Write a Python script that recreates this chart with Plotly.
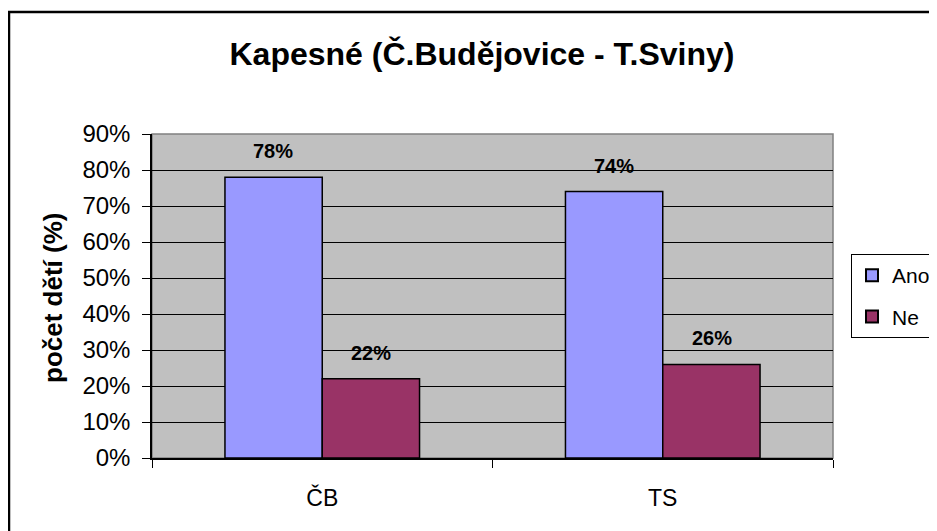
import plotly.graph_objects as go

categories = ["ČB", "TS"]
ano = [0.78, 0.74]
ne = [0.22, 0.26]
series_names = ["Ano", "Ne"]
y_tickvals = [0, 0.1, 0.2, 0.3, 0.4, 0.5, 0.6, 0.7, 0.8, 0.9]
y_ticktext = ["0%", "10%", "20%", "30%", "40%", "50%", "60%", "70%", "80%", "90%"]
title_text = "Kapesné (Č.Budějovice - T.Sviny)"
y_title = "počet dětí (%)"

FONT = "Liberation Sans, Arial, sans-serif"
colors = ["#9999FF", "#993366"]

fig = go.Figure()
for name, vals, col in zip(series_names, [ano, ne], colors):
    fig.add_trace(go.Bar(
        x=categories, y=vals, name=name, legendgroup=name,
        marker=dict(color=col, line=dict(color="black", width=1.5)),
    ))

# data labels
bar_px = 98
for i, vals in enumerate([ano, ne]):
    shift = -bar_px / 2 if i == 0 else bar_px / 2
    for c, v in zip(categories, vals):
        fig.add_annotation(
            x=c, y=v, xref="x", yref="y", text=f"<b>{round(v*100)}%</b>",
            showarrow=False, xshift=shift, yshift=13, yanchor="bottom",
            font=dict(family=FONT, size=20, color="black"),
        )

# page has an 8px body margin, so the figure is sized to the visible area
W, H = 929, 523
L, R, T, B = 144, 104, 126, 73
pw, ph = W - L - R, H - T - B

def px(xp):
    return (xp - L) / pw

def py(yp):
    return (H - B - yp) / ph

# y-axis title
fig.add_annotation(
    x=px(45), y=py(290), xref="paper", yref="paper", text=f"<b>{y_title}</b>",
    textangle=-90, showarrow=False, xanchor="center", yanchor="middle",
    font=dict(family=FONT, size=26, color="black"),
)

# outer chart border
fig.add_shape(type="rect", xref="paper", yref="paper",
              x0=px(1), x1=px(960), y0=py(560), y1=py(4),
              line=dict(color="black", width=2.5), fillcolor="rgba(0,0,0,0)", layer="below")
# plot area frame (gray)
fig.add_shape(type="rect", xref="paper", yref="paper", x0=0, x1=1, y0=0, y1=1,
              line=dict(color="#808080", width=1.5), fillcolor="rgba(0,0,0,0)", layer="below")

fig.update_layout(
    width=W, height=H,
    margin=dict(l=L, r=R, t=T, b=B, autoexpand=False),
    paper_bgcolor="white", plot_bgcolor="#C0C0C0",
    barmode="group", bargap=1.5 / 3.5, bargroupgap=0,
    title=dict(text=f"<b>{title_text}</b>", x=474 / W, xanchor="center",
               y=1 - 46 / H, yanchor="middle",
               font=dict(family=FONT, size=32, color="black")),
    font=dict(family=FONT, color="black"),
    showlegend=True,
    legend=dict(x=px(843), y=py(246), xanchor="left", yanchor="top",
                bgcolor="white", bordercolor="black", borderwidth=1,
                font=dict(family=FONT, size=21, color="black"),
                itemsizing="constant", tracegroupgap=11, traceorder="grouped"),
    xaxis=dict(type="category", showline=True, linecolor="black", linewidth=1.5,
               ticks="outside", ticklen=8, tickcolor="black", tickson="boundaries",
               tickfont=dict(family=FONT, size=23, color="black"), ticklabelstandoff=19,
               showgrid=False, fixedrange=True),
    yaxis=dict(range=[0, 0.9], tickvals=y_tickvals, ticktext=y_ticktext,
               showline=True, linecolor="black", linewidth=1.5,
               ticks="outside", ticklen=8, tickcolor="black",
               tickfont=dict(family=FONT, size=24, color="black"), ticklabelstandoff=7,
               showgrid=True, gridcolor="black", gridwidth=1,
               zeroline=False, fixedrange=True),
)

fig.write_html("out.html")
